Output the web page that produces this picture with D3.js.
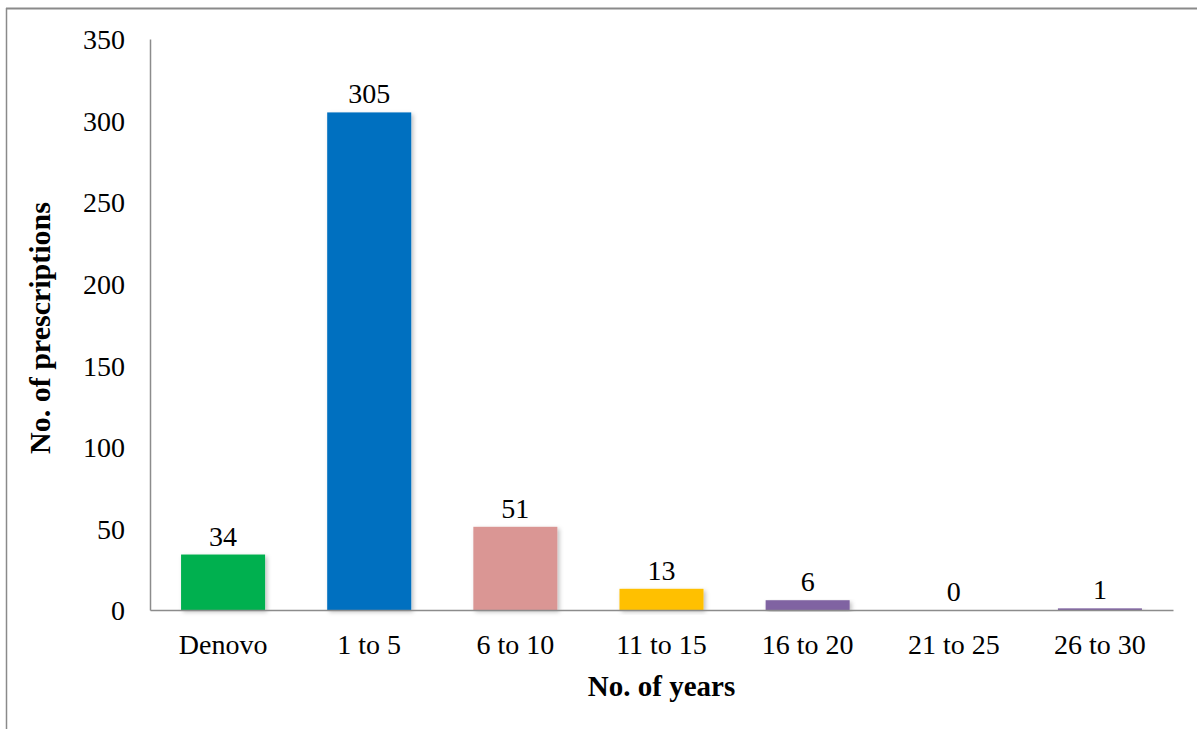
<!DOCTYPE html>
<html>
<head>
<meta charset="utf-8">
<script src="https://cdn.jsdelivr.net/npm/d3@7"></script>
<style>
body { margin: 0; background: #fff; }
text { font-family: "Liberation Serif", "Times New Roman", serif; fill: #000; }
</style>
</head>
<body>
<div id="app"></div>
<script>
var categories = ["Denovo", "1 to 5", "6 to 10", "11 to 15", "16 to 20", "21 to 25", "26 to 30"];
var values = [34, 305, 51, 13, 6, 0, 1];
var barColors = ["#00B050", "#0070C0", "#DA9694", "#FFC000", "#8064A2", "#8064A2", "#8064A2"];
var yTicks = [0, 50, 100, 150, 200, 250, 300, 350];

var W = 1197, H = 729;
var plotL = 150, plotR = 1173, plotT = 39, plotB = 610;

var svg = d3.select("#app").append("svg")
    .attr("width", W)
    .attr("height", H);

var defs = svg.append("defs");
var f = defs.append("filter").attr("id", "shadow")
    .attr("x", "-10%").attr("y", "-10%").attr("width", "130%").attr("height", "130%");
f.append("feDropShadow")
    .attr("dx", 2).attr("dy", 2).attr("stdDeviation", 2)
    .attr("flood-color", "#000").attr("flood-opacity", 0.25);

//FRAME
svg.append("line").attr("x1", 6).attr("x2", W).attr("y1", 8.5).attr("y2", 8.5)
    .style("stroke", "#8a8a8a").style("stroke-width", 2);
svg.append("line").attr("x1", 6.5).attr("x2", 6.5).attr("y1", 8).attr("y2", H)
    .style("stroke", "#8a8a8a").style("stroke-width", 1.5);

var x = d3.scaleBand()
    .domain(categories)
    .range([plotL, plotR])
    .paddingInner(0.425)
    .paddingOuter(0.2125);

var y = d3.scaleLinear()
    .domain([0, 350])
    .range([plotB, plotT]);

//BARS
svg.selectAll(".bar")
    .data(values)
    .enter()
    .append("rect")
    .attr("class", "bar")
    .attr("x", function (d, i) { return x(categories[i]); })
    .attr("y", function (d) { return y(d); })
    .attr("width", x.bandwidth())
    .attr("height", function (d) { return plotB - y(d); })
    .style("fill", function (d, i) { return barColors[i]; })
    .attr("filter", function (d) { return d > 0 ? "url(#shadow)" : null; });

//AXES
var yAxis = svg.append("g")
    .attr("transform", "translate(" + plotL + ",0)")
    .call(d3.axisLeft(y).tickValues(yTicks).tickSize(0).tickPadding(25));
yAxis.select(".domain").style("stroke", "#8c8c8c").style("stroke-width", 1.5);
yAxis.selectAll("text").style("font-size", "28px").attr("dy", "0.35em")
    .style("font-family", "Liberation Serif, Times New Roman, serif");

var xAxis = svg.append("g")
    .attr("transform", "translate(0," + plotB + ")")
    .call(d3.axisBottom(x).tickSize(0).tickPadding(24));
xAxis.select(".domain").style("stroke", "#8c8c8c").style("stroke-width", 1.5);
xAxis.selectAll("text").style("font-size", "28px")
    .style("font-family", "Liberation Serif, Times New Roman, serif");

//DATA LABELS
svg.selectAll(".lbl")
    .data(values)
    .enter()
    .append("text")
    .attr("class", "lbl")
    .attr("x", function (d, i) { return x(categories[i]) + x.bandwidth() / 2; })
    .attr("y", function (d) { return y(d) - 9; })
    .attr("text-anchor", "middle")
    .style("font-size", "28px")
    .text(function (d) { return d; });

//TITLES
svg.append("text")
    .attr("x", (plotL + plotR) / 2)
    .attr("y", 696)
    .attr("text-anchor", "middle")
    .style("font-size", "29px")
    .style("font-weight", "bold")
    .text("No. of years");

svg.append("text")
    .attr("transform", "translate(50,328) rotate(-90)")
    .attr("text-anchor", "middle")
    .style("font-size", "30px")
    .style("font-weight", "bold")
    .text("No. of prescriptions");
</script>
</body>
</html>
